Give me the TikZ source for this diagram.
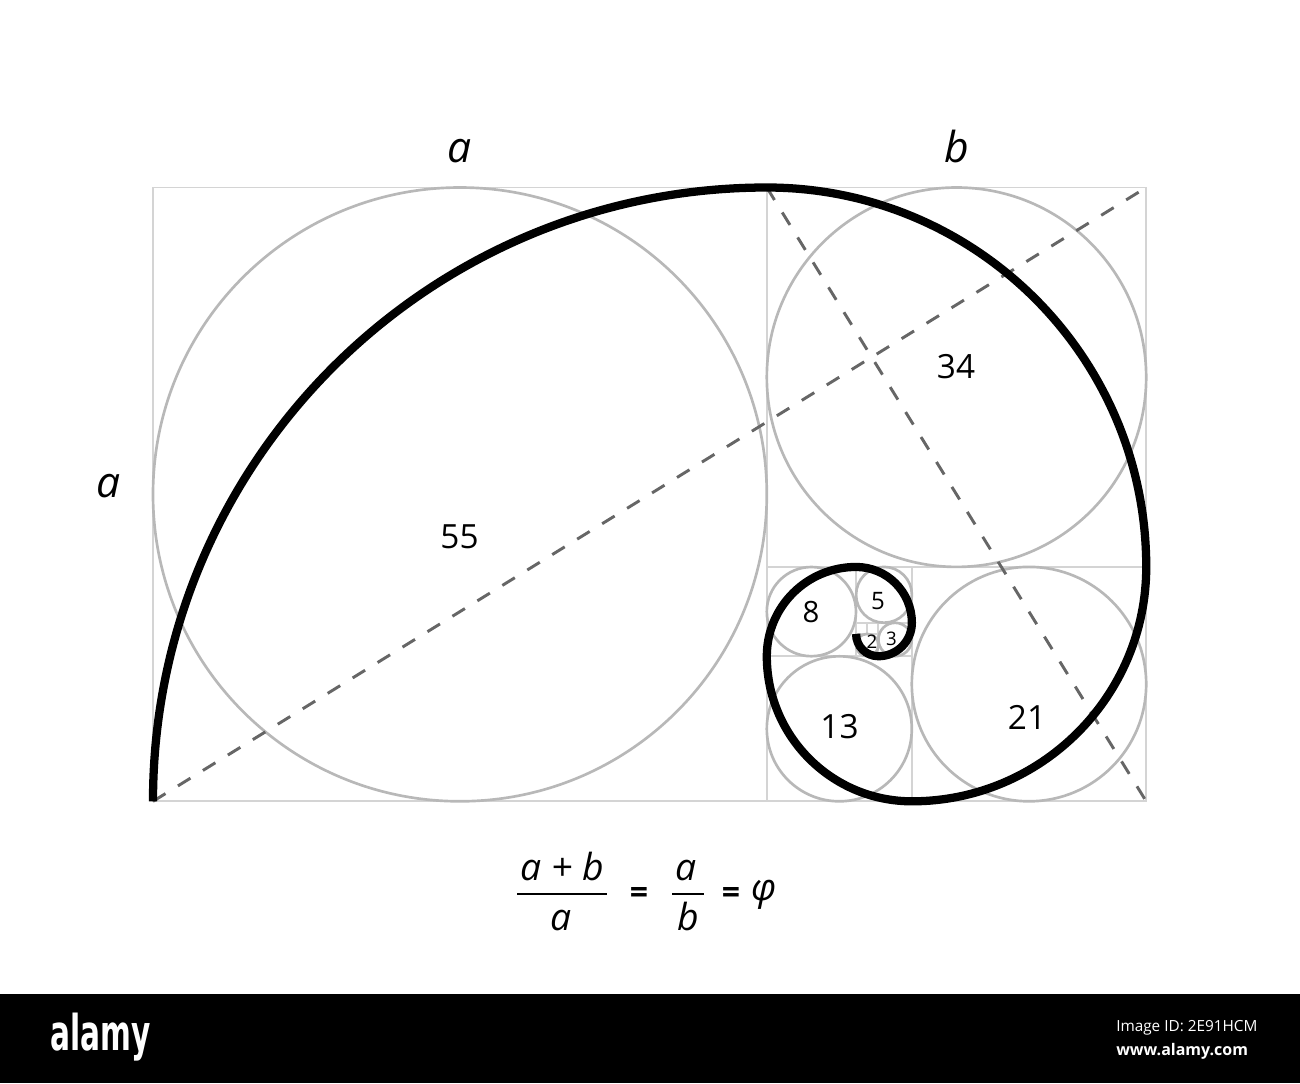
\documentclass[tikz,border=0pt]{standalone}
\usepackage{fontspec}
\newfontfamily\labelfont{Open Sans}
\newfontfamily\logofont[FakeStretch=0.6]{DejaVu Sans}
\definecolor{gridgray}{RGB}{212,212,212}
\definecolor{ringgray}{RGB}{184,184,184}
\definecolor{guidegray}{RGB}{102,102,102}

\begin{document}
\begin{tikzpicture}[x=0.75pt,y=0.75pt,yscale=-1,xscale=1,
		gridline/.style={color=gridgray,line width=1.4pt},
		ring/.style={color=ringgray,line width=2pt},
		guide/.style={color=guidegray,line width=2.2pt,dash pattern=on 11pt off 11pt},
		spiral/.style={color=black,line width=6.2pt},
		numtext/.style={inner sep=0pt,font={\labelfont\fontsize{#1}{#1}\selectfont}},
		lettext/.style={inner sep=0pt,anchor=base,font={\labelfont\itshape\fontsize{#1}{#1}\selectfont}},
		eqtext/.style={inner sep=0pt,font={\labelfont\bfseries\fontsize{24pt}{24pt}\selectfont}},
		fracbar/.style={line width=2pt}]
			\useasboundingbox (0,0) rectangle (1300,1083);
			
			%Corners
			\coordinate (A) at (153,801.3);
			\coordinate (B) at (1146.2,187.5);
			\coordinate (C) at (766.8,187.5);
			\coordinate (D) at (1146.2,801.3);
			
			%Shape: Rectangle
			\draw [gridline] (153,187.5) rectangle (1146.2,801.3);
			%Straight Lines
			\draw [gridline] (766.8,187.5) -- (766.8,801.3);
			\draw [gridline] (766.8,566.9) -- (1146.2,566.9);
			\draw [gridline] (911.9,566.9) -- (911.9,801.3);
			\draw [gridline] (766.8,656.2) -- (911.9,656.2);
			\draw [gridline] (856.1,566.9) -- (856.1,656.2);
			\draw [gridline] (856.1,622.7) -- (911.9,622.7);
			\draw [gridline] (878.4,622.7) -- (878.4,656.2);
			\draw [gridline] (856.1,633.9) -- (878.4,633.9);
			\draw [gridline] (867.2,622.7) -- (867.2,633.9);
			
			%Shape: Circle
			\draw [ring] (459.9,494.4) circle [radius=306.9];
			%Shape: Circle
			\draw [ring] (956.5,377.2) circle [radius=189.7];
			%Shape: Circle
			\draw [ring] (1029,684.1) circle [radius=117.2];
			%Shape: Circle
			\draw [ring] (839.3,728.8) circle [radius=72.5];
			%Shape: Circle
			\draw [ring] (811.4,611.6) circle [radius=44.6];
			%Shape: Circle
			\draw [ring] (884,594.8) circle [radius=27.9];
			%Shape: Circle
			\draw [ring] (895.1,639.5) circle [radius=16.7];
			%Shape: Circle
			\draw [ring] (867.2,645.1) circle [radius=11.2];
			
			%Straight Lines
			\draw [guide] (A) -- (B);
			%Straight Lines
			\draw [guide] (C) -- (D);
			
			%Curve Lines
			\draw [spiral] (A) arc [start angle=180,end angle=270,radius=613.8]
				arc [start angle=270,end angle=360,radius=379.44]
				arc [start angle=0,end angle=90,radius=234.36]
				arc [start angle=90,end angle=180,radius=145.08]
				arc [start angle=180,end angle=270,radius=89.28]
				arc [start angle=270,end angle=360,radius=55.8]
				arc [start angle=0,end angle=90,radius=33.48]
				arc [start angle=90,end angle=180,radius=22.32];
			
			% Text Node
			\node [lettext=32pt] (topa) at (459.5,162.7) {a};
			% Text Node
			\node [lettext=32pt] (topb) at (957,162.7) {b};
			% Text Node
			\node [lettext=32pt] (lefta) at (109,497) {a};
			% Text Node
			\node [numtext=25pt] (n55) at (459.5,537) {55};
			% Text Node
			\node [numtext=25pt] (n34) at (956,367) {34};
			% Text Node
			\node [numtext=25pt] (n21) at (1027,717) {21};
			% Text Node
			\node [numtext=25pt] (n13) at (839.5,727) {13};
			% Text Node
			\node [numtext=22pt] (n8) at (811,612) {8};
			% Text Node
			\node [numtext=18pt] (n5) at (878,601) {5};
			% Text Node
			\node [numtext=14pt] (n3) at (891.5,638.5) {3};
			% Text Node
			\node [numtext=14pt] (n2) at (872,642) {2};
			
			% Formula
			\node [lettext=28pt] (sumab) at (562,880.7) {a + b};
			\draw [fracbar] (517,894) -- (607,894);
			\node [lettext=28pt] (dena) at (561,930.7) {a};
			\node [eqtext] (eqone) at (639,895) {=};
			\node [lettext=28pt] (numa) at (686,880.7) {a};
			\draw [fracbar] (672,894) -- (704,894);
			\node [lettext=28pt] (denb) at (688,930.7) {b};
			\node [eqtext] (eqtwo) at (731,895) {=};
			\node [inner sep=0pt,font={\labelfont\itshape\fontsize{28pt}{28pt}\selectfont}] (phi) at (764,895) {φ};
			
			%Shape: Rectangle
			\fill [black] (0,994) rectangle (1300,1083);
			% Text Node
			\node [anchor=base west,inner sep=0pt,text=white,font={\logofont\bfseries\fontsize{37pt}{37pt}\selectfont}] (logo) at (50,1050) {alamy};
			% Text Node
			\node [anchor=base west,inner sep=0pt,text=white,font={\labelfont\fontsize{11.5pt}{11.5pt}\selectfont}] (imageid) at (1116,1031) {Image ID: 2E91HCM};
			% Text Node
			\node [anchor=base west,inner sep=0pt,text=white,font={\labelfont\bfseries\fontsize{12pt}{12pt}\selectfont}] (site) at (1116,1055) {www.alamy.com};
			
		\end{tikzpicture}
\end{document}
